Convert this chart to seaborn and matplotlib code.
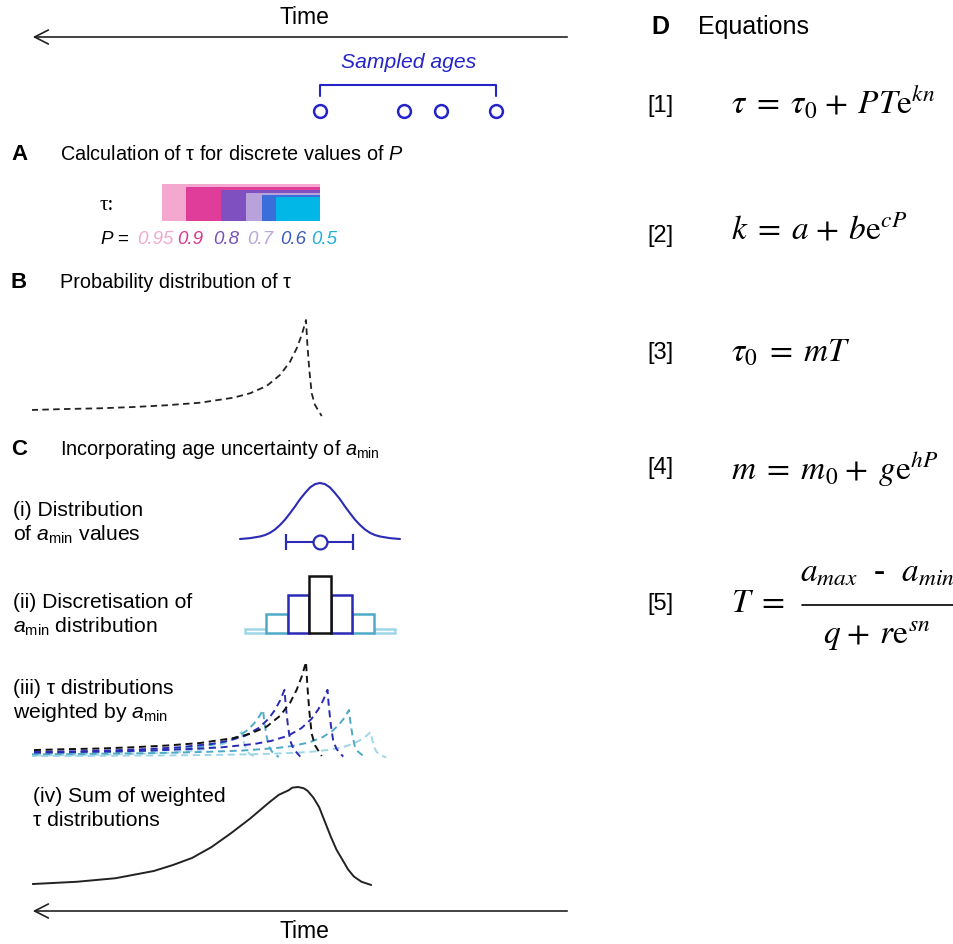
import numpy as np
import pandas as pd
import matplotlib
matplotlib.use("Agg")
import matplotlib.pyplot as plt
import seaborn as sns
from matplotlib.patches import FancyArrowPatch
from matplotlib.lines import Line2D

sns.set_theme(style="white")
plt.rcParams["font.family"] = ["Liberation Sans", "DejaVu Sans"]
plt.rcParams["text.color"] = "black"
plt.rcParams["mathtext.fontset"] = "custom"
plt.rcParams["mathtext.rm"] = "Liberation Sans"
plt.rcParams["mathtext.it"] = "Liberation Sans:italic"
plt.rcParams["mathtext.bf"] = "Liberation Sans:bold"

# ---------------- data (ages in arbitrary time units, larger = older) ----------------
sample_ages = [25.0, 16.6, 12.9, 7.4]

p_labels = ["0.95", "0.9", "0.8", "0.7", "0.6", "0.5"]
tau_lengths = [15.8, 13.4, 9.9, 7.4, 5.8, 4.4]
tau_bar_thickness = [37, 34, 31, 28, 26, 24]
p_colors = ["#f4a8d0", "#e03c9a", "#7e50c0", "#b9a2da", "#3a6ed8", "#00b7e8"]
p_text_colors = ["#f0a8d0", "#d6388e", "#7a50b5", "#b8a6d8", "#3a5cb8", "#20b0d8"]

# tau probability distribution (age offset relative to a_min, relative density)
dist_offset = [35.5, 28.83, 25.33, 22.0, 18.67, 15.33, 12.0, 8.67, 7.0, 5.33, 4.0,
               3.0, 2.33, 1.83, 1.4, 1.27, 1.07, 0.83, 0.5, -0.17]
dist_density = [0.075, 0.082, 0.092, 0.099, 0.112, 0.130, 0.156, 0.207, 0.252, 0.327, 0.439,
                0.574, 0.711, 0.847, 1.0, 0.762, 0.49, 0.252, 0.133, 0.02]

# a_min distribution
amin_center = 25.0
amin_err = 3.35
gauss_offset = [-8, -7, -6, -5.5, -5, -4.5, -4, -3.5, -3, -2.5, -2, -1.5, -1, -0.5, 0,
                0.5, 1, 1.5, 2, 2.5, 3, 3.5, 4, 4.5, 5, 5.5, 6, 7, 8]
gauss_density = [0.0, 0.015, 0.045, 0.07, 0.11, 0.17, 0.25, 0.345, 0.46, 0.58, 0.71,
                 0.82, 0.92, 0.98, 1.0, 0.98, 0.92, 0.82, 0.71, 0.58, 0.46, 0.345, 0.25,
                 0.17, 0.11, 0.07, 0.045, 0.015, 0.0]

# discretised a_min
bin_offsets = [6.45, 4.3, 2.15, 0.0, -2.15, -4.3, -6.45]
bin_heights = [0.07, 0.33, 0.66, 1.0, 0.66, 0.33, 0.07]
tau_weights = [0.27, 0.5, 0.71, 1.0, 0.71, 0.5, 0.27]
bin_colors = ["#9ed6e8", "#4eaac6", "#2a2ab5", "#111111", "#2a2ab5", "#4eaac6", "#9ed6e8"]

# summed distribution
sum_age = [53.73, 49.31, 45.46, 41.62, 39.7, 37.77, 35.85, 33.92, 32.0, 30.08, 29.12,
           28.15, 27.77, 27.2, 26.62, 26.23, 25.65, 25.08, 24.5, 23.92, 23.35, 22.77,
           22.2, 21.62, 20.85, 19.88]
sum_density = [0.01, 0.033, 0.069, 0.143, 0.204, 0.277, 0.387, 0.527, 0.677, 0.843, 0.92,
               0.966, 0.993, 1.0, 0.987, 0.96, 0.89, 0.793, 0.643, 0.493, 0.36, 0.26,
               0.16, 0.087, 0.033, 0.0]

# ---------------- figure ----------------
W, H = 954, 944
fig = plt.figure(figsize=(W / 100, H / 100), dpi=100)

X0, X1 = 32, 570
AGE_MAX = 53.8


def axes_px(y0, y1, x0=X0, x1=X1):
    ax = fig.add_axes([x0 / W, 1 - y1 / H, (x1 - x0) / W, (y1 - y0) / H])
    ax.set_axis_off()
    ax.set_xlim(AGE_MAX, 0)
    return ax


def ftext(x, y, s, **kw):
    kw.setdefault("va", "center")
    kw.setdefault("ha", "left")
    return fig.text(x / W, 1 - y / H, s, **kw)


def arrow(y):
    fig.add_artist(FancyArrowPatch(posA=(570 / W, 1 - y / H), posB=(30 / W, 1 - y / H),
                                   transform=fig.transFigure,
                                   arrowstyle="->,head_length=0.55,head_width=0.28",
                                   mutation_scale=18, lw=1.2, color="#222222"))


HS = 14.3  # header size
LS = 16    # panel letter size
SS = 15.2  # sub label size
TS = 16.5  # "Time"
dash = (0, (3.6, 2.4))

# top time arrow
ftext(304, 18, "Time", ha="center", fontsize=TS)
arrow(37)
ftext(409, 63, "Sampled ages", ha="center", fontsize=15.2, style="italic", color="#2424c8")

ax = axes_px(75, 125)
ax.set_ylim(125, 75)
lo, hi = max(sample_ages), min(sample_ages)
ax.plot([lo, lo, hi, hi], [96, 85, 85, 96], color="#2424c8", lw=1.5)
sns.scatterplot(x=sample_ages, y=[111] * len(sample_ages), ax=ax, marker="o", s=85,
                facecolor="white", edgecolor="#2424c8", linewidth=1.8, zorder=3)

# ---------------- A ----------------
ftext(11, 155, "A", fontsize=LS, fontweight="bold")
ftext(60, 155, r"Calculation of τ for discrete values of $P$", fontsize=HS)
ftext(100, 206, "τ:", fontsize=15, family="Liberation Serif")
ax = axes_px(176, 226)
ax.set_ylim(-5, 45)
for L, t, c in zip(tau_lengths, tau_bar_thickness, p_colors):
    ax.barh(y=0, width=L, left=amin_center, height=t, align="edge", color=c, lw=0)
ftext(100, 240, r"$P$ =", fontsize=13.5)
p_x = [137, 177, 213, 247, 280, 311]
for x, s, c in zip(p_x, p_labels, p_text_colors):
    ftext(x, 240, s, fontsize=13.5, style="italic", color=c)

# ---------------- B ----------------
ftext(11, 283, "B", fontsize=LS, fontweight="bold")
ftext(60, 283, "Probability distribution of τ", fontsize=HS)
ax = axes_px(300, 430)
ax.set_ylim(-0.1224, 1.204)
dfB = pd.DataFrame({"age": np.array(dist_offset) + amin_center, "d": dist_density})
sns.lineplot(data=dfB, x="age", y="d", ax=ax, sort=False, estimator=None,
             color="#222222", lw=1.3, linestyle=dash)
ax.set_xlim(AGE_MAX, 0)
ax.set_axis_off()

# ---------------- C ----------------
ftext(11, 450, "C", fontsize=LS, fontweight="bold")
ftext(60, 450, r"Incorporating age uncertainty of $a_{\mathrm{min}}$", fontsize=HS)

ftext(13, 511, "(i) Distribution", fontsize=SS)
ftext(13, 535, r"of $a_{\mathrm{min}}$ values", fontsize=SS)
ax = axes_px(470, 556)
ax.set_ylim(-0.3036, 1.232)
sns.lineplot(x=np.array(gauss_offset) + amin_center, y=gauss_density, ax=ax, sort=False,
             estimator=None, color="#2a2ab5", lw=1.5)
ax.errorbar([amin_center], [-0.045], xerr=[amin_err], fmt="o", color="#2a2ab5",
            mfc="white", mec="#2a2ab5", ms=10, mew=1.6, elinewidth=1.5, capsize=5.5,
            capthick=1.5)
ax.set_xlim(AGE_MAX, 0)
ax.set_axis_off()

ftext(13, 603, "(ii) Discretisation of", fontsize=SS)
ftext(13, 627, r"$a_{\mathrm{min}}$ distribution", fontsize=SS)
ax = axes_px(568, 640)
ax.set_ylim(-7 / 57, 65 / 57)
order = [0, 6, 1, 5, 2, 4, 3]
for i in order:
    ax.bar(amin_center + bin_offsets[i], bin_heights[i], width=2.15, bottom=0,
           facecolor="white", edgecolor=bin_colors[i], lw=1.8)

ftext(13, 688, r"(iii) τ distributions", fontsize=SS)
ftext(13, 712, r"weighted by $a_{\mathrm{min}}$", fontsize=SS)
ax = axes_px(650, 766)
ax.set_ylim(-8 / 96, 108 / 96)
for i in order:
    sns.lineplot(x=np.array(dist_offset) + amin_center + bin_offsets[i],
                 y=np.array(dist_density) * tau_weights[i], ax=ax, sort=False,
                 estimator=None, color=bin_colors[i], lw=1.4, linestyle=dash)
ax.set_xlim(AGE_MAX, 0)
ax.set_axis_off()

ftext(33, 797, "(iv) Sum of weighted", fontsize=SS)
ftext(33, 820, "τ distributions", fontsize=SS)
ax = axes_px(775, 895)
ax.set_ylim(-10 / 98, 110 / 98)
sns.lineplot(x=sum_age, y=sum_density, ax=ax, sort=False, estimator=None,
             color="#222222", lw=1.4)
ax.set_xlim(AGE_MAX, 0)
ax.set_axis_off()

arrow(911)
ftext(304, 931, "Time", ha="center", fontsize=TS)

# ---------------- D equations ----------------
ftext(651, 27, "D", fontsize=18, fontweight="bold")
ftext(698, 27, "Equations", fontsize=18)
EQ = 24
MF = "stix"
LBS = 17
EX = 731
EQS = r"\;{=}\;"
PLS = r"\;{+}\;\,"
eqs = [
    ("[1]", 106, r"$\tau" + EQS + r"\tau_0" + PLS + r"PT\mathrm{e}^{kn}$", 103),
    ("[2]", 236, r"$k" + EQS + "a" + PLS + r"b\mathrm{e}^{cP}$", 230),
    ("[3]", 353, r"$\tau_0" + EQS + r"mT$", 353),
    ("[4]", 468, r"$m" + EQS + "m_0" + PLS + r"g\mathrm{e}^{hP}$", 469),
]
for lab, yl, eq, ye in eqs:
    ftext(647, yl, lab, fontsize=LBS)
    ftext(EX, ye, eq, fontsize=EQ, math_fontfamily=MF)

# equation [5] as a fraction
ftext(647, 604, "[5]", fontsize=LBS)
ftext(EX, 603, r"$T" + EQS + "$", fontsize=EQ, math_fontfamily=MF)
ftext(877, 573, r"$a_{max}$  -  $a_{min}$", ha="center", fontsize=EQ,
      math_fontfamily=MF, family="Liberation Serif")
fig.add_artist(Line2D([802 / W, 953 / W], [1 - 605 / H, 1 - 605 / H],
                      transform=fig.transFigure, color="black", lw=1.2))
ftext(877, 636, r"$q" + PLS + r"r\mathrm{e}^{sn}$", ha="center", fontsize=EQ,
      math_fontfamily=MF)

fig.savefig("out.png", dpi=100)
